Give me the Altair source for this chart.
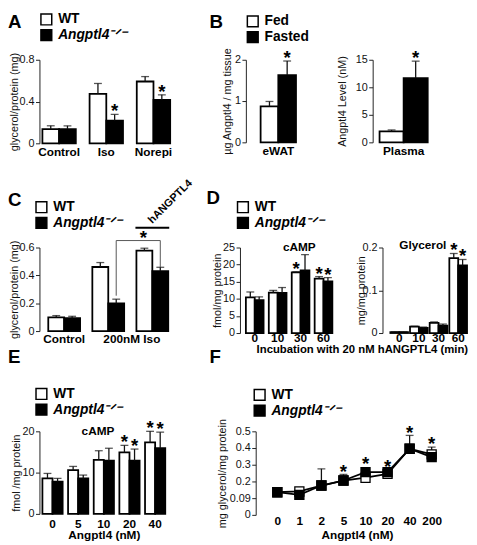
import altair as alt
import pandas as pd

FONT = "Liberation Sans"
WT = "WT"
KO = "Angptl4⁻ᐟ⁻"
FED = "Fed"
FAST = "Fasted"

# ---------------- data ----------------
A_groups = ["Control", "Iso", "Norepi"]
A_wt = [0.137, 0.473, 0.592]
A_wt_sem = [0.031, 0.100, 0.047]
A_ko = [0.137, 0.218, 0.417]
A_ko_sem = [0.031, 0.059, 0.047]
A_wt_star = [0, 0, 0]
A_ko_star = [0, 1, 1]

B1_groups = ["eWAT"]
B1_fed = [0.87]
B1_fed_sem = [0.12]
B1_fast = [1.63]
B1_fast_sem = [0.34]
B2_groups = ["Plasma"]
B2_fed = [2.0]
B2_fed_sem = [0.25]
B2_fast = [11.65]
B2_fast_sem = [3.1]

C_groups = ["Control", "Iso", "Iso+hANGPTL4"]
C_wt = [0.099, 0.46, 0.577]
C_wt_sem = [0.012, 0.032, 0.018]
C_ko = [0.092, 0.198, 0.43]
C_ko_sem = [0.014, 0.031, 0.028]
C_bracket_grp = ["Iso", "Iso", "Iso+hANGPTL4", "Iso+hANGPTL4"]
C_bracket_y = [0.254, 0.65, 0.65, 0.46]
C_hang_y = [0.735, 0.749]

D_times = ["0", "10", "30", "60"]
D1_wt = [10.4, 11.8, 17.7, 15.9]
D1_wt_sem = [1.6, 0.7, 0.2, 0.6]
D1_ko = [9.6, 11.7, 18.3, 15.1]
D1_ko_sem = [1.0, 1.6, 4.6, 1.1]
D1_wt_star = [0, 0, 1, 1]
D1_ko_star = [0, 0, 0, 1]
D2_wt = [0.002, 0.015, 0.024, 0.175]
D2_wt_sem = [0.001, 0.001, 0.002, 0.011]
D2_ko = [0.002, 0.012, 0.017, 0.158]
D2_ko_sem = [0.001, 0.002, 0.004, 0.014]
D2_wt_star = [0, 0, 0, 1]
D2_ko_star = [0, 0, 0, 1]

E_conc = ["0", "5", "10", "20", "40"]
E_wt = [8.6, 10.6, 13.1, 14.9, 17.3]
E_wt_sem = [1.2, 0.9, 2.2, 1.7, 2.7]
E_ko = [7.8, 8.6, 12.9, 12.9, 15.9]
E_ko_sem = [0.8, 0.8, 3.0, 2.8, 3.9]
E_wt_star = [0, 0, 0, 1, 1]
E_ko_star = [0, 0, 0, 1, 1]

F_conc = ["0", "1", "2", "5", "10", "20", "40", "200"]
F_wt = [0.122, 0.126, 0.158, 0.185, 0.200, 0.221, 0.356, 0.326]
F_ko = [0.122, 0.108, 0.158, 0.185, 0.230, 0.230, 0.356, 0.311]
F_wt_sem = [0, 0, 0, 0, 0, 0, 0, 0.039]
F_ko_sem = [0, 0, 0.090, 0.033, 0, 0, 0.072, 0]
F_star_y = [None, None, None, 0.252, 0.292, 0.279, 0.464, 0.401]


# ---------------- helpers ----------------
def yaxis(values, title, title_pad=0, label_pad=1.5):
    return alt.Axis(values=values, format="~g", title=title, grid=False,
                    domainColor="#222", domainWidth=1, tickSize=4, tickColor="#222",
                    labelFontSize=11, labelColor="#111", labelPadding=label_pad,
                    titleFontSize=11, titleFontWeight="normal", titleColor="#111",
                    titlePadding=title_pad)


def xaxis(label_pad, **kw):
    opts = dict(title=None, domain=False, ticks=False, tickSize=0, labelAngle=0,
                labelFontWeight="bold", labelFontSize=12, labelColor="black",
                labelPadding=label_pad, titleFontWeight="bold", titleFontSize=12,
                titleColor="black")
    opts.update(kw)
    return alt.Axis(**opts)


def legend(x, y, italic=True):
    kw = dict(orient="none", legendX=x, legendY=y, title=None, direction="vertical",
              symbolType="square", symbolSize=121, symbolStrokeColor="black",
              symbolStrokeWidth=1.5, labelFontSize=14, labelFontWeight="bold",
              labelColor="black", labelOffset=5, rowPadding=-4, padding=0)
    if italic:
        kw["labelFontStyle"] = {"expr": "datum.label == 'WT' ? 'normal' : 'italic'"}
    return alt.Legend(**kw)


def letter(t, dx, offset):
    return alt.TitleParams(t, anchor="start", frame="group", orient="top", dx=dx,
                           offset=offset, fontSize=19, fontWeight="bold", color="black")


def grouped(groups, series, means, sems, stars, width, height, ydom, yticks, ytitle,
            pi, po, al=0.5, leg=None, ytp=0, ylp=1.5, xlp=3, xkw=None, extra=None):
    rows = []
    for si, (s, m_, e_, st_) in enumerate(zip(series, means, sems, stars)):
        for g, m, e, st in zip(groups, m_, e_, st_):
            rows.append({"grp": g, "ser": s, "si": si, "mean": m, "sem": e,
                         "star": "*" if st else ""})
    df = pd.DataFrame(rows)
    n = len(groups)
    step = width / max(1.0, n - pi + 2 * po)
    bw = step * (1 - pi) / 2.0  # width of one bar (two bars fill a group band)
    x = alt.X("grp:N", scale=alt.Scale(type="band", domain=groups, paddingInner=pi,
                                       paddingOuter=po, align=al),
              axis=xaxis(xlp, **(xkw or {})))
    ysc = alt.Scale(domain=ydom, nice=False)
    yax = yaxis(yticks, ytitle, ytp, ylp)
    fill_scale = alt.Scale(domain=series, range=["white", "black"])

    def Y(f):
        return alt.Y(f, type="quantitative", scale=ysc, axis=yax)

    base = alt.Chart(df).transform_calculate(top="datum.mean + datum.sem")
    bar_layers, other = [], []
    for si in range(len(series)):
        off = (si - 0.5) * bw
        sub = base.transform_filter(f"datum.si == {si}")
        bar_layers.append(sub.mark_bar(width=bw, xOffset=off, stroke="black", strokeWidth=1.8).encode(
            x=x, y=Y("mean"), fill=alt.Fill("ser:N", scale=fill_scale, legend=leg)))
        other.append(sub.mark_rule(xOffset=off, color="#111", strokeWidth=1.3).encode(
            x=x, y=Y("mean"), y2="top:Q"))
        other.append(sub.mark_tick(xOffset=off, color="#111", thickness=1.3, size=8).encode(
            x=x, y=Y("top")))
        other.append(sub.transform_filter("datum.star != ''").mark_text(
            xOffset=off, fontSize=19, fontWeight="bold", baseline="alphabetic", dy=3,
            color="black").encode(x=x, y=Y("top"), text="star:N"))
    layers = bar_layers + other
    if extra:
        layers += extra(x, Y, bw)
    return alt.layer(*layers).properties(width=width, height=height)


def label_layer(text, grp, yval, dx, dy, x, Y, size=12):
    d = pd.DataFrame({"label": [text], "grp": [grp], "yv": [yval]})
    return alt.Chart(d).mark_text(fontSize=size, fontWeight="bold", baseline="alphabetic",
                                  dx=dx, dy=dy, color="black").encode(
        x=x, y=Y("yv"), text="label:N")


# ---------------- panel A ----------------
A = grouped(A_groups, [WT, KO], [A_wt, A_ko], [A_wt_sem, A_ko_sem], [A_wt_star, A_ko_star],
            136, 85, [0, 0.8], [0, 0.4, 0.8], "glycerol/protein (mg)",
            0.2917, 0.0625, leg=legend(0, -48), xlp=3.5).properties(title=letter("A", -32, -20))

# ---------------- panel B ----------------
B1 = grouped(B1_groups, [FED, FAST], [B1_fed, B1_fast], [B1_fed_sem, B1_fast_sem], [[0], [1]],
             66, 84, [0, 2], [0, 1, 2], "µg Angptl4 / mg tissue",
             0, 0.4167, leg=legend(0, -46, italic=False), ytp=2, xlp=3.5)
B2 = grouped(B2_groups, [FED, FAST], [B2_fed, B2_fast], [B2_fed_sem, B2_fast_sem], [[0], [1]],
             63, 84, [0, 15], [0, 5, 10, 15], "Angptl4 Level (nM)",
             0, 0.1429, leg=None, ytp=8, xlp=3.5)


# ---------------- panel C ----------------
def c_extra(x, Y, bw):
    br = pd.DataFrame({"o": [0, 1, 2, 3], "grp": C_bracket_grp, "yv": C_bracket_y})
    bracket = alt.Chart(br).mark_line(xOffset=bw / 2, color="#555", strokeWidth=1).encode(
        x=x, y=Y("yv"), order="o:Q")
    bs = pd.DataFrame({"grp": ["Iso+hANGPTL4"], "yv": [C_bracket_y[1]], "s": ["*"]})
    bstar = alt.Chart(bs).mark_text(fontSize=19, fontWeight="bold", baseline="alphabetic",
                                    dx=-9, dy=4, color="black").encode(
        x=x, y=Y("yv"), text="s:N")
    hl = pd.DataFrame({"grp": ["Iso+hANGPTL4"], "y1": [C_hang_y[0]],
                       "y2": [C_hang_y[1]], "label": ["hANGPTL4"]})
    hline = alt.Chart(hl).mark_bar(color="black", width=2 * bw + 2).encode(
        x=x, y=Y("y1"), y2="y2:Q")
    htext = alt.Chart(hl).mark_text(angle=315, align="left", baseline="alphabetic", fontSize=11,
                                    fontWeight="bold", dx=2, dy=-2, color="black").encode(
        x=x, y=Y("y2"), text="label:N")
    return [bracket, bstar, hline, htext]


C = grouped(C_groups, [WT, KO], [C_wt, C_ko], [C_wt_sem, C_ko_sem], [[0, 0, 0], [0, 0, 0]],
            140, 85, [0, 0.6], [0, 0.2, 0.4, 0.6], "glycerol/protein (mg)",
            0.2778, 0.2, leg=legend(-5, -48), xlp=2.5,
            xkw=dict(labelExpr="datum.value == 'Control' ? 'Control' : (datum.value == 'Iso' ? '200nM Iso' : '')",
                     labelOffset={"condition": {"test": "datum.value == 'Iso'", "value": 24}, "value": 0}),
            extra=c_extra).properties(title=letter("C", -32, -33))

# ---------------- panel D ----------------
D1 = grouped(D_times, [WT, KO], [D1_wt, D1_ko], [D1_wt_sem, D1_ko_sem], [D1_wt_star, D1_ko_star],
             100, 87, [0, 25], [0, 5, 10, 15, 20, 25], "fmol/mg protein",
             0.2275, 0.2575, leg=legend(-4, -48), xlp=0,
             xkw=dict(title="Incubation with 20 nM hANGPTL4 (min)", titleX=124, titleAlign="center",
                      titlePadding=0, titleFontSize=11.5),
             extra=lambda x, Y, bw: [label_layer("cAMP", "10", 25, 22, 3.3, x, Y)])
D2 = grouped(D_times, [WT, KO], [D2_wt, D2_ko], [D2_wt_sem, D2_ko_sem], [D2_wt_star, D2_ko_star],
             88, 87, [0, 0.2], [0, 0.1, 0.2], "mg/mg protein",
             0.1, 0.25, al=0.8, leg=None, ytp=-4, xlp=0,
             extra=lambda x, Y, bw: [label_layer("Glycerol", "10", 0.2, 4, 1.3, x, Y)])

# ---------------- panel E ----------------
E = grouped(E_conc, [WT, KO], [E_wt, E_ko], [E_wt_sem, E_ko_sem], [E_wt_star, E_ko_star],
            131, 84, [0, 20], [0, 10, 20], "fmol /mg protein",
            0.2115, 0.1154, leg=legend(-5, -45), ytp=1, xlp=4.5,
            xkw=dict(title="Angptl4 (nM)", titlePadding=1),
            extra=lambda x, Y, bw: [label_layer("cAMP", "10", 20, -6, 3.3, x, Y)]
            ).properties(title=letter("E", -32, 21))

# ---------------- panel F ----------------
rowsF = []
for s, vals, sems in [(WT, F_wt, F_wt_sem), (KO, F_ko, F_ko_sem)]:
    for c, v, e in zip(F_conc, vals, sems):
        rowsF.append({"conc": c, "ser": s, "val": v, "sem": e})
dfF = pd.DataFrame(rowsF)
xF = alt.X("conc:N", scale=alt.Scale(type="point", domain=F_conc, padding=0.98),
           axis=xaxis(1, title="Angptl4 (nM)", titleX=103, titleAlign="center", titlePadding=3.5))
ysF = alt.Scale(domain=[0, 0.45], nice=False)
yaF = yaxis([0, 0.09, 0.18, 0.27, 0.36, 0.45], "mg glycerol/mg protein", 2, 1.5)


def YF(f):
    return alt.Y(f, type="quantitative", scale=ysF, axis=yaF)


baseF = alt.Chart(dfF).transform_calculate(top="datum.val + datum.sem")
lineF = baseF.mark_line(color="black", strokeWidth=1.8).encode(x=xF, y=YF("val"), detail="ser:N")
errF = baseF.transform_filter("datum.sem > 0").mark_rule(color="#111", strokeWidth=1.3).encode(
    x=xF, y=YF("val"), y2="top:Q")
capF = baseF.transform_filter("datum.sem > 0").mark_tick(color="#111", thickness=1.3, size=8).encode(
    x=xF, y=YF("top"))
ptsF = baseF.mark_point(shape="square", filled=True, size=85, stroke="black", strokeWidth=1.3,
                        opacity=1).encode(
    x=xF, y=YF("val"),
    fill=alt.Fill("ser:N", scale=alt.Scale(domain=[WT, KO], range=["white", "black"]),
                  legend=legend(-3, -44)))
dsF = pd.DataFrame({"conc": [c for c, s in zip(F_conc, F_star_y) if s is not None],
                    "sy": [s for s in F_star_y if s is not None]}).assign(s="*")
starF = alt.Chart(dsF).mark_text(fontSize=19, fontWeight="bold", baseline="alphabetic", dy=10,
                                 color="black").encode(x=xF, y=YF("sy"), text="s:N")
F = alt.layer(lineF, errF, capF, ptsF, starF).properties(width=201, height=85,
                                                         title=letter("F", -47, 22))


# ---------------- layout ----------------
def indep(ch):
    return ch.resolve_scale(fill="independent").resolve_legend(fill="independent")


Bpair = indep(alt.hconcat(B1, B2, spacing=63, bounds="flush", title=letter("B", -37, -18)))
Dpair = indep(alt.hconcat(D1, D2, spacing=45, bounds="flush", title=letter("D", -34, -7.5)))
row1 = indep(alt.hconcat(A, Bpair, spacing=74, bounds="flush"))
row2 = indep(alt.hconcat(C, Dpair, spacing=64, bounds="flush"))
row3 = indep(alt.hconcat(E, F, spacing=89, bounds="flush"))
# nested concat groups count as zero-height cells with flush bounds:
# spacing is the distance between the tops of consecutive rows
lower = indep(alt.vconcat(row2, row3, spacing=187, bounds="flush"))
chart = indep(alt.vconcat(row1, lower, spacing=191, bounds="flush")).properties(
    padding=0, background="white"
).configure(font=FONT).configure_view(stroke=None)

chart.save("out.html", embed_options={"renderer": "svg", "actions": False})
